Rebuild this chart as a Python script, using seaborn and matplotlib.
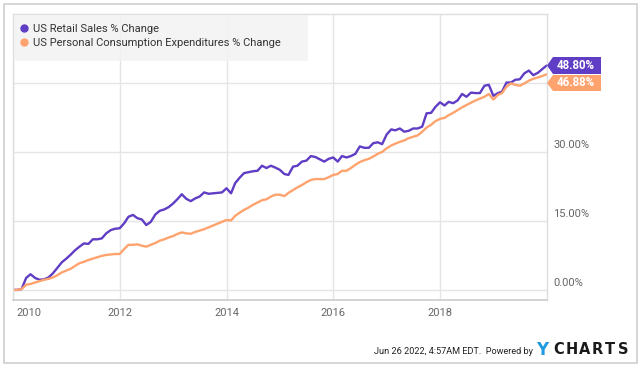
import numpy as np
import pandas as pd
import seaborn as sns
import matplotlib.pyplot as plt
from matplotlib.lines import Line2D
from matplotlib.patches import Rectangle, Polygon
from matplotlib.transforms import blended_transform_factory

# monthly % change since Jan 2010
dates = pd.date_range('2010-01-01', periods=121, freq='MS')
retail = [0.0, 0.0, 0.2, 2.6, 3.4, 2.6, 2.2, 2.3, 2.7, 3.6,
          4.8, 6.0, 6.8, 7.7, 8.6, 9.4, 10.1, 10.0, 11.0, 11.0,
          11.2, 12.3, 13.0, 13.3, 13.4, 14.5, 15.9, 16.3, 15.6, 15.3,
          14.1, 14.8, 16.4, 17.2, 17.5, 18.0, 18.8, 19.8, 20.8, 19.8,
          19.3, 19.9, 20.3, 21.2, 20.9, 21.0, 21.1, 21.2, 22.1, 21.0,
          23.2, 24.4, 25.4, 25.6, 25.8, 25.9, 27.0, 26.5, 27.0, 26.6,
          26.1, 25.2, 25.0, 26.8, 27.0, 27.9, 28.1, 29.1, 28.9, 28.4,
          27.9, 28.5, 28.8, 27.9, 29.1, 28.8, 29.1, 29.6, 31.2, 30.9,
          30.9, 31.9, 32.1, 31.7, 33.8, 34.9, 34.7, 35.1, 34.4, 34.6,
          35.1, 35.1, 35.5, 38.4, 38.5, 39.8, 40.8, 40.1, 40.9, 40.6,
          41.2, 42.6, 42.0, 42.9, 42.8, 42.8, 44.4, 44.6, 42.2, 42.8,
          43.1, 45.1, 45.1, 45.7, 45.8, 47.1, 47.7, 46.7, 47.2, 48.0,
          48.8]
pce = [0.0, 0.0, 0.2, 1.1, 1.3, 1.6, 1.9, 2.2, 2.4, 2.7,
       3.2, 3.8, 4.2, 4.6, 5.2, 5.8, 6.1, 6.5, 6.8, 7.1,
       7.4, 7.6, 7.7, 7.8, 7.8, 8.9, 9.8, 9.8, 9.9, 9.6,
       9.4, 9.8, 10.2, 10.7, 11.0, 11.4, 11.7, 12.2, 12.5, 12.3,
       12.2, 12.6, 12.9, 13.2, 13.6, 14.0, 14.4, 14.8, 15.2, 15.1,
       16.1, 16.8, 17.4, 17.9, 18.5, 19.0, 19.5, 19.7, 20.3, 20.7,
       20.7, 20.4, 21.1, 21.7, 22.3, 22.8, 23.4, 23.9, 24.1, 24.1,
       24.1, 24.5, 25.0, 25.2, 25.9, 25.9, 26.5, 27.2, 27.8, 28.2,
       28.5, 29.0, 29.6, 30.0, 30.8, 31.4, 31.8, 32.2, 32.5, 33.0,
       33.3, 33.6, 34.4, 35.3, 35.9, 36.7, 37.2, 37.4, 38.0, 38.5,
       39.1, 39.7, 40.2, 40.7, 41.2, 41.6, 42.0, 42.6, 41.4, 42.4,
       42.8, 44.2, 44.9, 44.6, 44.4, 44.9, 45.5, 45.9, 46.2, 46.5,
       46.88]
names = ['US Retail Sales % Change', 'US Personal Consumption Expenditures % Change']
colors = ['#5f3dc4', '#ffa36e']
yticks = [0, 15, 30, 45]
ylabels = ['0.00%', '15.00%', '30.00%', '']
xyears = [2010, 2012, 2014, 2016, 2018]

df = pd.DataFrame({'date': dates, names[0]: retail, names[1]: pce})
long = df.melt(id_vars='date', var_name='series', value_name='pct')

sns.set_style('white')
plt.rcParams['font.family'] = ['Roboto', 'DejaVu Sans']

W, H = 640, 365
fig = plt.figure(figsize=(6.4, 3.65), dpi=100)
ax = fig.add_axes([13 / W, 1 - 300 / H, (546.7 - 13) / W, (300 - 14) / H])

def fx(px):
    return px / W

def fy(py):
    return 1 - py / H

# outer border
fig.patches.append(Rectangle((fx(3.5), fy(363)), fx(633), 359 / H, transform=fig.transFigure,
                             fill=False, edgecolor='#cfcfcf', lw=1.2))

sns.lineplot(data=long, x='date', y='pct', hue='series', palette=colors,
             linewidth=1.7, ax=ax, legend=False)

ax.set_xlim(pd.Timestamp('2010-01-01'), pd.Timestamp('2020-01-01'))
ax.set_ylim(-2.2, 60)
ax.set_xlabel('')
ax.set_ylabel('')
xt = [pd.Timestamp(f'{y}-01-01') for y in xyears]
ax.set_xticks(xt)
ax.set_yticks(yticks)
ax.tick_params(length=0, labelbottom=False, labelleft=False)
ax.grid(True, color='#e5e5e5', lw=1)
for s in ['top', 'left', 'right']:
    ax.spines[s].set_color('#dddddd')
    ax.spines[s].set_linewidth(1)
ax.spines['bottom'].set_color('#cccccc')
ax.spines['bottom'].set_linewidth(1.2)

# tick labels as text so they can sit off the gridlines like the original
ytr = blended_transform_factory(fig.transFigure, ax.transData)
for v, lab in zip(yticks, ylabels):
    ax.text(fx(553), v + 0.4, lab, transform=ytr, color='#666666', fontsize=8,
            ha='left', va='bottom')
xtr = blended_transform_factory(ax.transData, fig.transFigure)
for i, (d, y) in enumerate(zip(xt, xyears)):
    if i == 0:
        ax.text(fx(16), fy(313), str(y), transform=fig.transFigure, color='#666666',
                fontsize=8, ha='left', va='center')
    else:
        ax.text(d, fy(313), str(y), transform=xtr, color='#666666', fontsize=8,
                ha='center', va='center', clip_on=False)

# legend box
ax.add_patch(Rectangle((fx(15), fy(61)), fx(293), 46 / H, transform=fig.transFigure,
                       facecolor='#f3f3f3', edgecolor='none', alpha=0.85, zorder=3))
handles = [Line2D([], [], ls='none', marker='o', ms=5, color=c) for c in colors]
leg = ax.legend(handles, names, loc='upper left', bbox_to_anchor=(fx(20), fy(24)),
                bbox_transform=fig.transFigure, frameon=False, fontsize=8,
                handlelength=0.7, handletextpad=0.5, labelspacing=0.35,
                borderpad=0, borderaxespad=0)
for t in leg.get_texts():
    t.set_color('#333333')
leg.set_zorder(4)

# value tags at the right edge
tags = [(retail[-1], 57, 74), (pce[-1], 75, 91)]
for (val, top, bot), c in zip(tags, colors):
    mid = (top + bot) / 2
    pts = [(547, mid), (553, top), (601, top), (601, bot), (553, bot)]
    fig.patches.append(Polygon([(fx(px), fy(py)) for px, py in pts], closed=True,
                               transform=fig.transFigure, facecolor=c, edgecolor='none'))
    fig.text(fx(576), fy(mid), f'{val:.2f}%', color='white', fontsize=8.3,
             fontweight='bold', ha='center', va='center')

# footer
fig.text(fx(533), fy(351), 'Jun 26 2022, 4:57AM EDT.  Powered by', fontsize=6.6,
         color='#222222', ha='right', va='center')
fig.text(fx(536), fy(350), 'Y', fontsize=12, fontweight='bold', color='#1e9be0',
         ha='left', va='center', family=['DejaVu Sans'])
for i, ch in enumerate('CHARTS'):
    fig.text(fx(553 + i * 13), fy(350), ch, fontsize=10.5, fontweight='bold', color='#1a1a1a',
             ha='left', va='center', family=['DejaVu Sans'])

fig.savefig('out.png', dpi=100)
